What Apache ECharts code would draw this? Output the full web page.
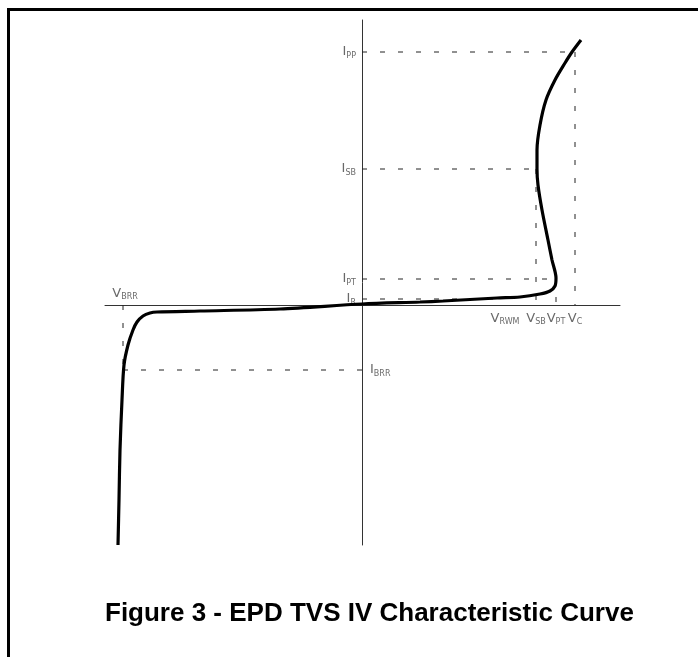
<!DOCTYPE html>
<html>
<head>
<meta charset="utf-8">
<script src="https://cdn.jsdelivr.net/npm/echarts@6/dist/echarts.min.js"></script>
<style>
html,body{margin:0;padding:0;background:#fff;}
#chart{width:698px;height:657px;}
</style>
</head>
<body>
<div id="chart"></div>
<script>
// IV curve of the TVS (voltage, current) in arbitrary units
var curveV = [-244,-243,-242,-240,-238,-234,-229,-225,-219,-212,-205,-162,-82,0,58,81,135,158,178,188,193,194,190,186,180,176,175,175,178,184,193,203,210,219];
var curveI = [-240,-195,-145,-95,-60,-40,-25,-17,-11,-8,-7,-6,-4,1,3,4,7,8,11,14,19,27,45,65,95,120,136,155,180,205,225,242,253,265];

// reference levels
var levelNames = ["PP","SB","PT","R"];
var levelI = [253,136,26,6];
var levelV = [213,174,194,135];
var voltNames = ["RWM","SB","PT","C"];
var voltV = [135,174,194,213];
var brrV = -239;
var brrI = -65;

var chart = echarts.init(document.getElementById("chart"));

var curve = [];
for(var i=0;i<curveV.length;i++){
	curve.push([curveV[i],curveI[i]]);
}

var guideStyle = {color:"#222",width:1,type:[5,13]};
var series = [];
function addGuide(pts){
	series.push({
		type:"line",
		data:pts,
		symbol:"none",
		silent:true,
		lineStyle:guideStyle,
		z:1
	});
}
for(var j=0;j<levelI.length;j++){
	addGuide([[0,levelI[j]],[levelV[j],levelI[j]]]);
}
// vertical guides down from the levels
addGuide([[213,253],[213,0]]);
addGuide([[174,136],[174,0]]);
addGuide([[194,26],[194,0]]);
addGuide([[brrV,0],[brrV,brrI]]);
addGuide([[brrV,brrI],[0,brrI]]);

series.push({
	type:"line",
	data:curve,
	symbol:"none",
	smooth:0.3,
	lineStyle:{color:"#000",width:3.2},
	z:5
});

var rich = {
	a:{fontSize:13,color:"#444",fontFamily:"DejaVu Sans"},
	s:{fontSize:8,color:"#444",fontFamily:"DejaVu Sans",padding:[7,0,0,0]}
};
var iLabels = [];
for(var k=0;k<levelNames.length;k++){
	iLabels.push({value:[0,levelI[k]],name:levelNames[k]});
}
series.push({
	type:"scatter",
	data:iLabels,
	symbolSize:0,
	silent:true,
	label:{show:true,position:"left",distance:6,formatter:function(p){return "{a|I}{s|"+p.name+"}";},rich:rich}
});
series.push({
	type:"scatter",
	data:[{value:[0,brrI],name:"BRR"}],
	symbolSize:0,
	silent:true,
	label:{show:true,position:"right",distance:8,formatter:function(p){return "{a|I}{s|"+p.name+"}";},rich:rich}
});
var vLabels = [];
for(var m=0;m<voltNames.length;m++){
	vLabels.push({value:[voltV[m],0],name:voltNames[m]});
}
vLabels[0].value = [143,0];
series.push({
	type:"scatter",
	data:vLabels,
	symbolSize:0,
	silent:true,
	label:{show:true,position:"bottom",distance:6,formatter:function(p){return "{a|V}{s|"+p.name+"}";},rich:rich}
});
series.push({
	type:"scatter",
	data:[{value:[-237,0],name:"BRR"}],
	symbolSize:0,
	silent:true,
	label:{show:true,position:"top",distance:4,formatter:function(p){return "{a|V}{s|"+p.name+"}";},rich:rich}
});

var option = {
	animation:false,
	backgroundColor:"#fff",
	title:{
		text:"Figure 3 - EPD TVS IV Characteristic Curve",
		left:100,
		top:596,
		textStyle:{fontSize:26,fontWeight:"bold",color:"#000",fontFamily:"Liberation Sans"}
	},
	grid:{left:105,right:78,top:20,bottom:112},
	xAxis:{
		type:"value",min:-257,max:258,
		axisLine:{onZero:true,lineStyle:{color:"#333",width:1}},
		axisTick:{show:false},axisLabel:{show:false},splitLine:{show:false}
	},
	yAxis:{
		type:"value",min:-240,max:285,
		axisLine:{show:true,onZero:true,lineStyle:{color:"#333",width:1}},
		axisTick:{show:false},axisLabel:{show:false},splitLine:{show:false}
	},
	graphic:[
		{type:"line",shape:{x1:7,y1:9.5,x2:698,y2:9.5},style:{stroke:"#000",lineWidth:3}},
		{type:"line",shape:{x1:8.5,y1:8,x2:8.5,y2:657},style:{stroke:"#000",lineWidth:3}}
	],
	series:series
};
chart.setOption(option);
</script>
</body>
</html>
